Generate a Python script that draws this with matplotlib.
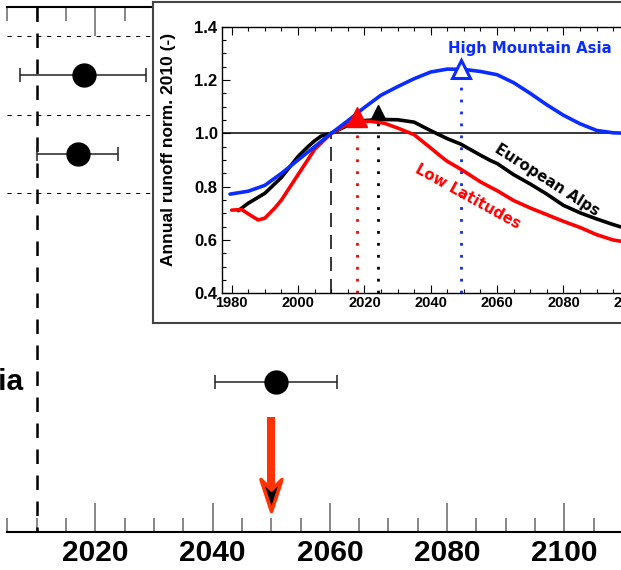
import numpy as np
import matplotlib
matplotlib.use("Agg")
import matplotlib.pyplot as plt
from matplotlib.path import Path
from matplotlib.markers import MarkerStyle
from matplotlib.ticker import MultipleLocator, FormatStrFormatter

plt.rcParams['font.family'] = ['Liberation Sans', 'DejaVu Sans']
plt.rcParams['font.weight'] = 'bold'

# ---------------- main panel data (peak-water year per region) -------------
hma_label = 'High Mountain Asia'
peak_rows = [1.0, 2.0, 4.9]
peak_years = [2018.0, 2017.0, 2050.9]
peak_lo = [2007.2, 2010.0, 2040.4]
peak_hi = [2028.6, 2023.8, 2061.3]
separator_rows = [0.5, 1.5, 2.5]
ref_year = 2010
arrow_year = 2050
arrow_start_row = 5.35
arrow_end_row = 6.54
main_xlim = (2005, 2115)
main_ylim = (6.814, 0.135)

# ---------------- inset data (annual runoff normalised to 2010) ------------
hma_years = [1979.5, 1985, 1990, 1995, 2000, 2005, 2010, 2015, 2020, 2025, 2030,
             2035, 2040, 2045, 2050, 2055, 2060, 2065, 2070, 2075, 2080, 2085,
             2090, 2095, 2100, 2105]
hma_runoff = [0.772, 0.783, 0.805, 0.85, 0.90, 0.95, 1.0, 1.047, 1.097, 1.143, 1.175,
              1.205, 1.230, 1.241, 1.240, 1.232, 1.220, 1.190, 1.150, 1.107, 1.068,
              1.036, 1.011, 1.002, 1.0, 1.0]

alps_years = [1982, 1985, 1990, 1995, 2000, 2003, 2005, 2007, 2010, 2015, 2020, 2025,
              2030, 2035, 2040, 2043, 2045, 2049, 2055, 2058, 2060, 2065, 2070, 2075,
              2080, 2085, 2090, 2094, 2097, 2100, 2105]
alps_runoff = [0.71, 0.738, 0.775, 0.835, 0.913, 0.95, 0.972, 0.99, 1.0, 1.03, 1.048, 1.052,
               1.051, 1.042, 1.010, 0.992, 0.980, 0.960, 0.918, 0.898, 0.887, 0.845, 0.810,
               0.772, 0.730, 0.702, 0.679, 0.662, 0.650, 0.645, 0.645]

lowlat_years = [1980, 1983, 1986, 1988, 1990, 1993, 1995, 2000, 2005, 2010, 2015, 2018,
                2022, 2026, 2030, 2035, 2040, 2043, 2045, 2049, 2055, 2058, 2060, 2065,
                2070, 2075, 2080, 2085, 2090, 2095, 2100, 2105]
lowlat_runoff = [0.712, 0.714, 0.69, 0.675, 0.682, 0.72, 0.75, 0.845, 0.94, 1.0, 1.035, 1.045,
                 1.045, 1.038, 1.020, 0.995, 0.945, 0.914, 0.895, 0.866, 0.818, 0.798, 0.785,
                 0.748, 0.720, 0.695, 0.670, 0.647, 0.620, 0.600, 0.590, 0.590]

peak_inset_years = [2017.7, 2024.0, 2049.0]
peak_inset_tri = [1.062, 1.080, 1.243]
peak_inset_line_top = [1.045, 1.055, 1.243]
inset_ref_year = 2010

BLUE = '#0a2cff'
RED = '#ff0000'
ARROW_RED = '#ff3300'

W, H = 621, 570
fig = plt.figure(figsize=(W / 100, H / 100), dpi=100)

# ---------------- main axes ----------------
left_px, top_px, bot_px = 7.4, 7.3, 532.3
px_per_year = 5.8625
ax = fig.add_axes([left_px / W, (H - bot_px) / H,
                   (main_xlim[1] - main_xlim[0]) * px_per_year / W,
                   (bot_px - top_px) / H])
ax.set_xlim(*main_xlim)
ax.set_ylim(*main_ylim)
for s in ['left', 'right']:
    ax.spines[s].set_visible(False)
for s in ['top', 'bottom']:
    ax.spines[s].set_linewidth(1.5)
ax.xaxis.set_major_locator(MultipleLocator(20))
ax.xaxis.set_minor_locator(MultipleLocator(5))
ax.tick_params(axis='x', which='both', direction='in', top=True, bottom=True,
               color='#666666', width=1.1)
ax.tick_params(axis='x', which='major', length=21, pad=5, labelsize=21.5)
ax.tick_params(axis='x', which='minor', length=10)
ax.tick_params(axis='y', left=False, labelleft=False)
for lab in ax.get_xticklabels():
    lab.set_fontweight('bold')

ax.hlines(separator_rows, main_xlim[0], 2035, colors='k', lw=0.75,
          linestyles=(0, (4, 5.5)), zorder=1)
ax.plot([ref_year, ref_year], [main_ylim[1], main_ylim[0]], color='k', lw=1.8,
        linestyle=(0, (5.8, 4.6)), zorder=2, clip_on=False)

xerr = [np.array(peak_years) - np.array(peak_lo), np.array(peak_hi) - np.array(peak_years)]
ax.errorbar(peak_years, peak_rows, xerr=xerr, fmt='o', ms=16.5, mfc='k', mec='k',
            ecolor='#222222', elinewidth=1.1, capsize=5, capthick=1.1, zorder=3)

ax.annotate(hma_label, xy=(23, peak_rows[2]), xycoords=('figure pixels', 'data'),
            ha='right', va='center', fontsize=21.5, fontweight='bold')

# arrow: shaft + notched head marker
notch_row = arrow_end_row - 0.2
ax.plot([arrow_year, arrow_year], [arrow_start_row, notch_row], color=ARROW_RED,
        lw=5.8, solid_capstyle='butt', zorder=4)
head_path = Path([(0, 0), (10.5, 32), (0, 21.5), (-10.5, 32), (0, 0)],
                 [Path.MOVETO, Path.LINETO, Path.LINETO, Path.LINETO, Path.CLOSEPOLY])
head = MarkerStyle(head_path, joinstyle='miter')
ax.plot([arrow_year], [arrow_end_row], marker=head, ms=46, mfc='k', mec=ARROW_RED,
        mew=2.6, ls='none', zorder=5)

# ---------------- inset frame ----------------
frame_left, frame_top, frame_bot = 152.7, 1.5, 322.7
frame = fig.add_axes([frame_left / W, (H - frame_bot) / H, (720 - frame_left) / W,
                      (frame_bot - frame_top) / H])
frame.set_xticks([]); frame.set_yticks([])
frame.set_facecolor('white')
for s in frame.spines.values():
    s.set_color('#444444'); s.set_linewidth(1.5)
frame.set_zorder(2)

# ---------------- inset axes ----------------
in_left, in_top, in_bot = 221.75, 26.7, 293.3
in_xlim = (1977, 2105)
in_ppy = 3.317
ia = fig.add_axes([in_left / W, (H - in_bot) / H, (in_xlim[1] - in_xlim[0]) * in_ppy / W,
                   (in_bot - in_top) / H])
ia.set_zorder(3)
ia.set_facecolor('none')
ia.set_xlim(*in_xlim)
ia.set_ylim(0.4, 1.4)
for s in ia.spines.values():
    s.set_linewidth(1.0)
ia.xaxis.set_major_locator(MultipleLocator(20))
ia.xaxis.set_minor_locator(MultipleLocator(5))
ia.yaxis.set_major_locator(MultipleLocator(0.2))
ia.yaxis.set_minor_locator(MultipleLocator(0.05))
ia.yaxis.set_major_formatter(FormatStrFormatter('%.1f'))
ia.tick_params(which='both', direction='in', top=True, right=True, width=0.8)
ia.tick_params(which='major', length=5.8)
ia.tick_params(which='minor', length=3)
ia.tick_params(axis='x', labelsize=10.5, pad=2)
ia.tick_params(axis='y', labelsize=12, pad=3)
for lab in ia.get_xticklabels() + ia.get_yticklabels():
    lab.set_fontweight('bold')

ia.axhline(1.0, color='k', lw=1.1, zorder=1)
ia.plot([inset_ref_year, inset_ref_year], [0.4, 1.0], color='k', lw=1.1,
        linestyle=(0, (9.2, 5.2)), zorder=1)

ia.plot(alps_years, alps_runoff, color='k', lw=2.6, zorder=3,
        solid_joinstyle='round', solid_capstyle='round')
ia.plot(lowlat_years, lowlat_runoff, color=RED, lw=2.6, zorder=4,
        solid_joinstyle='round', solid_capstyle='round')
ia.plot(hma_years, hma_runoff, color=BLUE, lw=2.6, zorder=5,
        solid_joinstyle='round', solid_capstyle='round')

line_colors = [RED, 'k', BLUE]
for yr, top, c in zip(peak_inset_years, peak_inset_line_top, line_colors):
    ia.plot([yr, yr], [0.4, top], color=c, lw=2.0, linestyle=(0, (1, 3.3)), zorder=2)

ia.plot(peak_inset_years[0], peak_inset_tri[0], marker='^', ms=13.7, color=RED, zorder=6)
ia.plot(peak_inset_years[1], peak_inset_tri[1], marker='^', ms=10, color='k', zorder=6)
ia.plot(peak_inset_years[2], peak_inset_tri[2], marker='^', ms=13.5, mfc='white',
        mec=BLUE, mew=2.2, zorder=6)

ia.text(2069.8, 1.319, 'High Mountain Asia', color=BLUE, fontsize=10.7,
        fontweight='bold', family='DejaVu Sans', ha='center', va='center')
ia.text(2075.1, 0.825, 'European Alps', color='k', fontsize=10.7, fontweight='bold',
        family='DejaVu Sans', ha='center', va='center', rotation=-32.5,
        rotation_mode='anchor')
ia.text(2051.3, 0.762, 'Low Latitudes', color=RED, fontsize=10.7, fontweight='bold',
        family='DejaVu Sans', ha='center', va='center', rotation=-29,
        rotation_mode='anchor')

fig.text(169 / W, 1 - 149 / H, 'Annual runoff norm. 2010 (-)', rotation=90,
         ha='center', va='center', fontsize=12.5, fontweight='bold')

fig.savefig('out.png', dpi=100)
